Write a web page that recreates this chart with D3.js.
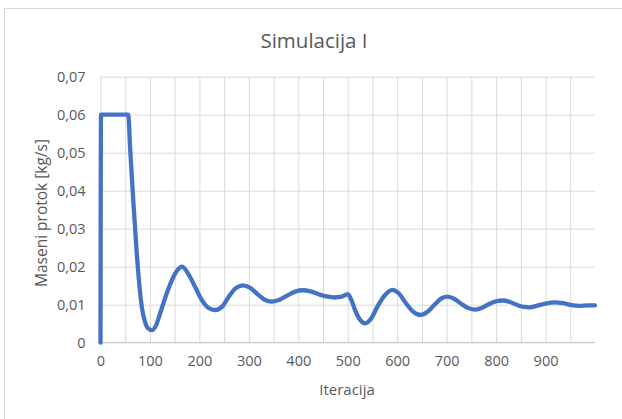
<!DOCTYPE html>
<html>
<head>
<meta charset="utf-8">
<title>Simulacija I</title>
<script src="https://d3js.org/d3.v7.min.js"></script>
<style>
body { margin: 0; background: white; font-family: "Open Sans", "Noto Sans", sans-serif; }
.grid line { stroke: #d9d9d9; stroke-width: 1; }
.grid path { display: none; }
.lbl text { fill: #595959; font-size: 14.5px; font-family: "Open Sans", sans-serif; }
.lbl path, .lbl line { display: none; }
</style>
</head>
<body>
<script>
var iter = [0, 1, 56, 60, 66, 72, 78, 84, 90, 96, 104, 112, 120, 134, 150, 165, 178, 192, 205, 218, 232,
  246, 260, 273, 288, 302, 318, 332, 346, 362, 380, 395, 408, 425, 445, 460, 473, 488, 500,
  508, 515, 525, 535, 548, 560, 575, 590, 603, 617, 632, 648, 662, 677, 690, 702, 716, 730,
  744, 758, 772, 786, 800, 813, 828, 843, 856, 868, 882, 900, 918, 935, 952, 969, 985, 1000];
var protok = [0, 0.06, 0.06, 0.051, 0.038, 0.026, 0.016, 0.009, 0.0055, 0.0038, 0.0033, 0.0045, 0.0075, 0.013, 0.018, 0.020, 0.018, 0.0145, 0.0112, 0.0092, 0.0086,
  0.0095, 0.0122, 0.0143, 0.0151, 0.0145, 0.0127, 0.0113, 0.0108, 0.0113, 0.0126, 0.0135, 0.0138, 0.0135, 0.0126, 0.0121, 0.0119, 0.0121, 0.0128,
  0.011, 0.0085, 0.006, 0.0051, 0.0065, 0.0095, 0.0125, 0.0139, 0.013, 0.0105, 0.0082, 0.0073, 0.0082, 0.0102, 0.0117, 0.0121, 0.0115, 0.0102,
  0.0091, 0.0087, 0.0092, 0.0102, 0.0109, 0.0111, 0.0107, 0.0099, 0.0094, 0.0093, 0.0097, 0.0103, 0.0106, 0.0104, 0.0099, 0.0097, 0.0098, 0.0098];

var xLabels = d3.range(0, 901, 100);
var xGrid = d3.range(0, 951, 50);
var yTicks = [0, 0.01, 0.02, 0.03, 0.04, 0.05, 0.06, 0.07];

var width = 622, height = 419;
var plotL = 100.5, plotR = 595, plotT = 76.7, plotB = 342.7;

var svg = d3.select("body").append("svg")
  .attr("width", width)
  .attr("height", height);

// chart border (cut off by the picture on the right and bottom)
svg.append("rect")
  .attr("x", 4.5).attr("y", 8.5)
  .attr("width", 640).attr("height", 440)
  .attr("fill", "white")
  .attr("stroke", "#d9d9d9");

var x = d3.scaleLinear().domain([0, 1000]).range([plotL, plotR]);
var y = d3.scaleLinear().domain([0, 0.07]).range([plotB, plotT]);

// vertical grid
svg.append("g").attr("class", "grid")
  .attr("transform", "translate(0," + plotB + ")")
  .call(d3.axisBottom(x).tickValues(xGrid).tickSize(-(plotB - plotT)).tickFormat(""));

// horizontal grid
svg.append("g").attr("class", "grid")
  .attr("transform", "translate(" + plotL + ",0)")
  .call(d3.axisLeft(y).tickValues(yTicks.slice(1)).tickSize(-(plotR - plotL)).tickFormat(""));

// x axis line
svg.append("line")
  .attr("x1", plotL).attr("x2", plotR)
  .attr("y1", y(0)).attr("y2", y(0))
  .attr("stroke", "#c8c8c8").attr("stroke-width", 1.2);

// tick labels
svg.append("g").attr("class", "lbl")
  .attr("transform", "translate(0," + plotB + ")")
  .call(d3.axisBottom(x).tickValues(xLabels).tickSize(0).tickPadding(13));

var fmt = function(d) { return d === 0 ? "0" : d3.format(".2f")(d).replace(".", ","); };
svg.append("g").attr("class", "lbl")
  .attr("transform", "translate(" + plotL + ",0)")
  .call(d3.axisLeft(y).tickValues(yTicks).tickFormat(fmt).tickSize(0).tickPadding(15));

// the series
var pts = iter.map(function(d, i) { return [d, protok[i]]; });
var line = d3.line()
  .x(function(d) { return x(d[0]); })
  .y(function(d) { return y(d[1]); })
  .curve(d3.curveMonotoneX);

svg.append("path")
  .datum(pts)
  .attr("fill", "none")
  .attr("stroke", "#4472c4")
  .attr("stroke-width", 4.3)
  .attr("stroke-linejoin", "round")
  .attr("stroke-linecap", "round")
  .attr("d", line);

// titles
svg.append("text")
  .attr("x", 314).attr("y", 48)
  .attr("text-anchor", "middle")
  .attr("fill", "#595959")
  .style("font-size", "20.5px")
  .text("Simulacija I");

svg.append("text")
  .attr("x", 347).attr("y", 395)
  .attr("text-anchor", "middle")
  .attr("fill", "#595959")
  .style("font-size", "15px")
  .text("Iteracija");

svg.append("text")
  .attr("transform", "translate(47,213) rotate(-90)")
  .attr("text-anchor", "middle")
  .attr("fill", "#595959")
  .style("font-size", "15.5px")
  .text("Maseni protok [kg/s]");
</script>
</body>
</html>
